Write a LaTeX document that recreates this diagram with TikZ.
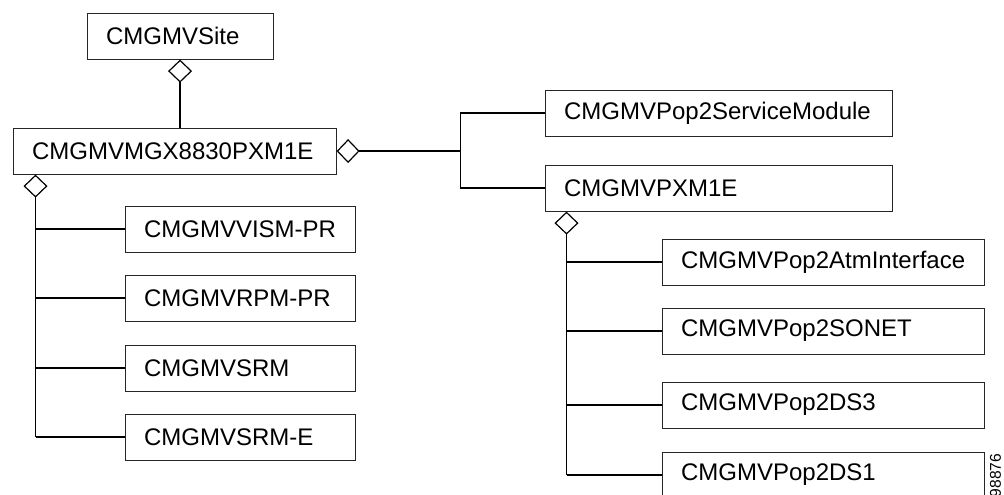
\documentclass[tikz,border=0pt]{standalone}
\usepackage{fontspec}
\setmainfont{Liberation Sans}
\usepackage{tikz}
\usetikzlibrary{arrows.meta}
\tikzset{
	cls/.style={draw=black!85, line width=0.55pt, anchor=north west, minimum height=23pt, inner xsep=9.5pt, inner ysep=0pt, align=left, text width=#1, font=\fontsize{12}{14}\selectfont},
	link/.style={line width=0.6pt},
	agg/.style={link, {Diamond[open,length=11.5pt,width=12pt]}-}
}

\begin{document}
\begin{tikzpicture}[x=0.5pt, y=-0.5pt]
		%%%%% START %%%%%
		\useasboundingbox (0, 0) rectangle (1004, 494);
		
		\node[cls=74pt] (site) at (86.5, 12.5) {CMGMVSite};
		\node[cls=142.5pt] (main) at (12.5, 127.5) {CMGMVMGX8830PXM1E};
		
		\node[cls=96pt] (vism) at (124.5, 205.5) {CMGMVVISM-PR};
		\node[cls=96pt] (rpm) at (124.5, 274.5) {CMGMVRPM-PR};
		\node[cls=96pt] (srm) at (124.5, 344.5) {CMGMVSRM};
		\node[cls=96pt] (srme) at (124.5, 413.5) {CMGMVSRM-E};
		
		\node[cls=154.5pt] (svc) at (544.5, 89.5) {CMGMVPop2ServiceModule};
		\node[cls=154.5pt] (pxm) at (544.5, 164.5) {CMGMVPXM1E};
		
		\node[cls=142pt] (atm) at (661.5, 238.5) {CMGMVPop2AtmInterface};
		\node[cls=142pt] (sonet) at (661.5, 307.5) {CMGMVPop2SONET};
		\node[cls=142pt] (ds3) at (661.5, 381.5) {CMGMVPop2DS3};
		\node[cls=142pt] (ds1) at (661.5, 451.5) {CMGMVPop2DS1};
		
		\coordinate (lbus) at (35.5, 0);
		\coordinate (rbus) at (460.5, 0);
		\coordinate (pbus) at (566.5, 0);
		
		\draw[agg] (site.south) -- (site.south |- main.north);
		
		\draw[agg] (main.east) -- (main.east -| rbus);
		\draw[link] (svc.west) -| (rbus |- main.east) |- (pxm.west);
		
		\draw[agg] (main.south -| lbus) -- (lbus |- srme.west);
		\foreach \n in {vism, rpm, srm, srme}
			\draw[link] (lbus |- \n.west) -- (\n.west);
		
		\draw[agg] (pxm.south -| pbus) -- (pbus |- ds1.west);
		\foreach \n in {atm, sonet, ds3, ds1}
			\draw[link] (pbus |- \n.west) -- (\n.west);
		
		\node[rotate=90, anchor=west, inner sep=0pt, font=\fontsize{7.8}{9}\selectfont] (fig) at (995.5, 497.5) {98876};
		%%%%% END %%%%%
	\end{tikzpicture}
\end{document}
